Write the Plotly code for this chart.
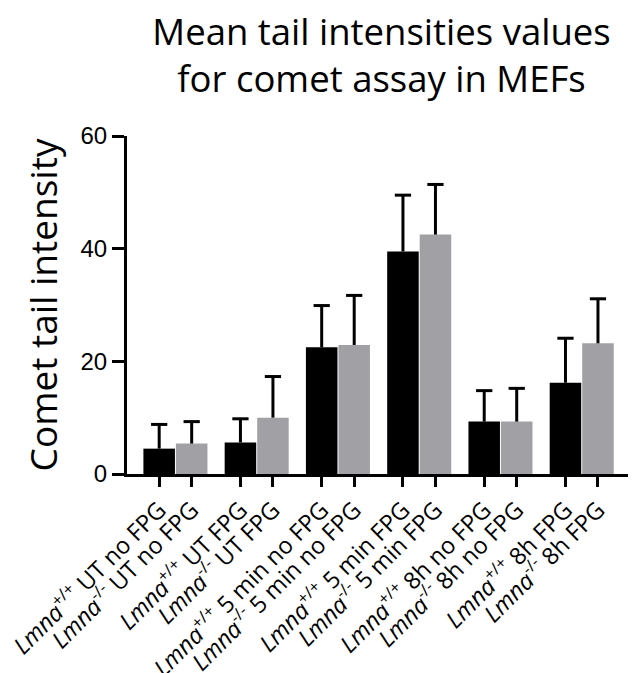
import plotly.graph_objects as go

conditions = ["UT no FPG", "UT FPG", "5 min no FPG", "5 min FPG", "8h no FPG", "8h FPG"]
genotypes = ["+/+", "-/-"]
mean_wt = [4.5, 5.6, 22.5, 39.5, 9.3, 16.2]
sd_wt = [4.3, 4.2, 7.4, 10.0, 5.5, 7.9]
mean_ko = [5.4, 10.0, 22.9, 42.5, 9.3, 23.2]
sd_ko = [3.9, 7.3, 8.8, 8.9, 5.9, 7.9]
y_ticks = [0, 20, 40, 60]

# layout positions (group pitch 2.5 bar-widths)
x_wt = [2.5 * i for i in range(len(conditions))]
x_ko = [2.5 * i + 1 for i in range(len(conditions))]
CAP = 0.25

def lab(g, c):
    return f"<i>Lmna</i><sup>{g}</sup> {c}"

tickvals, ticktext = [], []
for i, c in enumerate(conditions):
    tickvals += [x_wt[i], x_ko[i]]
    ticktext += [lab(genotypes[0], c), lab(genotypes[1], c)]

def err_lines(xs, ms, sds):
    ex, ey = [], []
    for x, m, s in zip(xs, ms, sds):
        ex += [x, x, None, x - CAP, x + CAP, None]
        ey += [m, m + s, None, m + s, m + s, None]
    return ex, ey

fig = go.Figure()
fig.add_trace(go.Bar(x=x_wt, y=mean_wt, width=0.97,
                     marker=dict(color="#000000", line=dict(width=0)), showlegend=False))
fig.add_trace(go.Bar(x=x_ko, y=mean_ko, width=0.97,
                     marker=dict(color="#A1A0A5", line=dict(width=0)), showlegend=False))
for xs, ms, sds in [(x_wt, mean_wt, sd_wt), (x_ko, mean_ko, sd_ko)]:
    ex, ey = err_lines(xs, ms, sds)
    fig.add_trace(go.Scatter(x=ex, y=ey, mode="lines",
                             line=dict(color="black", width=3), showlegend=False,
                             hoverinfo="skip"))

fig.update_layout(
    width=628, height=665,
    margin=dict(l=119, r=0, t=128, b=199),
    plot_bgcolor="white", paper_bgcolor="white",
    barmode="overlay",
    title=dict(text="Mean tail intensities values<br>for comet assay in MEFs",
               x=0.5, xref="paper", xanchor="center",
               y=0.945, yref="container", yanchor="top",
               font=dict(family="Open Sans", size=36.5, color="black")),
    xaxis=dict(range=[-0.99, 14.67], tickmode="array", tickvals=tickvals, ticktext=ticktext,
               tickangle=-45, ticks="outside", ticklen=10, tickwidth=3, tickcolor="black",
               showline=True, linewidth=3, linecolor="black", showgrid=False, zeroline=False,
               automargin=False, ticklabeloverflow="allow",
               tickfont=dict(family="Open Sans", size=23.5, color="black")),
    yaxis=dict(range=[0, 60], tickmode="array", tickvals=y_ticks,
               ticks="outside", ticklen=12, tickwidth=3, tickcolor="black",
               showline=True, linewidth=3, linecolor="black", showgrid=False, zeroline=False,
               automargin=False,
               tickfont=dict(family="Liberation Sans", size=24, color="black"),
               title=dict(text="Comet tail intensity", standoff=12,
                          font=dict(family="Open Sans", size=37, color="black"))),
)

fig.write_html("out.html")
